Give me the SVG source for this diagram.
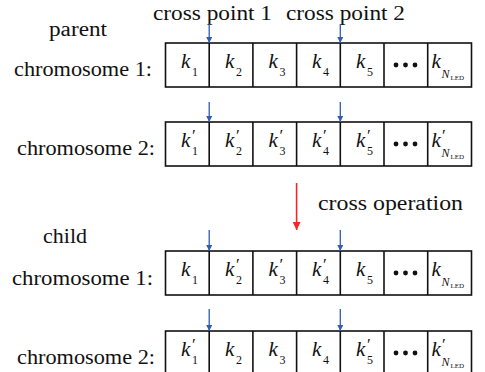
<svg xmlns="http://www.w3.org/2000/svg" width="485" height="372" viewBox="0 0 485 372">
  <defs>
    <style>
      .lbl { font-size: 20px; fill: #111; }
      .cell { fill: #fff; stroke: #111; stroke-width: 1.6; }
      .div { stroke: #111; stroke-width: 1.6; }
      .k { font-style: italic; font-size: 21px; fill: #111; }
      .sub { font-style: normal; font-size: 12px; }
      .pr { font-style: normal; font-size: 17px; }
      .nsub { font-style: italic; font-size: 12px; }
      .led { font-style: normal; font-size: 7px; }
      .cut { stroke: #2f5cb5; stroke-width: 1.3; fill: none; marker-end: url(#blueHead); }
      .op { stroke: #f02828; stroke-width: 1.6; fill: none; marker-end: url(#redHead); }
    </style>
    <marker id="blueHead" viewBox="0 0 8 8" refX="8" refY="4" markerWidth="6" markerHeight="6" markerUnits="userSpaceOnUse" orient="auto">
      <path d="M0,0 L8,4 L0,8 Z" fill="#2f5cb5"/>
    </marker>
    <marker id="redHead" viewBox="0 0 8 8" refX="8" refY="4" markerWidth="8" markerHeight="8" markerUnits="userSpaceOnUse" orient="auto">
      <path d="M0,0 L8,4 L0,8 Z" fill="#f02828"/>
    </marker>
    <!-- one chromosome: seven genes in a strip, 43.7px per cell -->
    <g id="strip">
      <rect class="cell" x="165.5" y="0" width="306" height="44"/>
      <line class="div" x1="209.2" y1="0" x2="209.2" y2="44"/>
      <line class="div" x1="252.9" y1="0" x2="252.9" y2="44"/>
      <line class="div" x1="296.6" y1="0" x2="296.6" y2="44"/>
      <line class="div" x1="340.3" y1="0" x2="340.3" y2="44"/>
      <line class="div" x1="384" y1="0" x2="384" y2="44"/>
      <line class="div" x1="427.7" y1="0" x2="427.7" y2="44"/>
      <circle cx="396" cy="22" r="2.4" fill="#111"/>
      <circle cx="405.5" cy="22" r="2.4" fill="#111"/>
      <circle cx="415" cy="22" r="2.4" fill="#111"/>
    </g>
  </defs>

  <g font-family="'Liberation Serif', 'DejaVu Serif', serif">
  <!-- headings -->
  <text class="lbl" x="153" y="20" textLength="119" lengthAdjust="spacingAndGlyphs">cross point 1</text>
  <text class="lbl" x="286" y="20" textLength="119" lengthAdjust="spacingAndGlyphs">cross point 2</text>
  <text class="lbl" x="49" y="36" textLength="58" lengthAdjust="spacingAndGlyphs">parent</text>
  <text class="lbl" x="318" y="210" textLength="145" lengthAdjust="spacingAndGlyphs">cross operation</text>
  <text class="lbl" x="43" y="243" textLength="44" lengthAdjust="spacingAndGlyphs">child</text>

  <!-- parent chromosome 1 -->
  <g id="parent1">
    <text class="lbl" x="14" y="76" textLength="138" lengthAdjust="spacingAndGlyphs">chromosome 1:</text>
    <use href="#strip" y="43"/>
    <text class="k" y="68"><tspan x="181">k</tspan><tspan class="sub" x="192" y="76">1</tspan></text>
    <text class="k" y="68"><tspan x="225">k</tspan><tspan class="sub" x="236" y="76">2</tspan></text>
    <text class="k" y="68"><tspan x="268.5">k</tspan><tspan class="sub" x="279.5" y="76">3</tspan></text>
    <text class="k" y="68"><tspan x="312">k</tspan><tspan class="sub" x="323" y="76">4</tspan></text>
    <text class="k" y="68"><tspan x="356">k</tspan><tspan class="sub" x="367" y="76">5</tspan></text>
    <text class="k" y="68"><tspan x="431.5">k</tspan><tspan class="nsub" x="441.5" y="78">N</tspan><tspan class="led" x="450.5" y="80">LED</tspan></text>
  </g>

  <!-- parent chromosome 2 -->
  <g id="parent2">
    <text class="lbl" x="17" y="155" textLength="138" lengthAdjust="spacingAndGlyphs">chromosome 2:</text>
    <use href="#strip" y="122"/>
    <text class="k" y="147"><tspan x="181">k</tspan><tspan class="pr" x="192" y="141">′</tspan><tspan class="sub" x="192" y="155">1</tspan></text>
    <text class="k" y="147"><tspan x="225">k</tspan><tspan class="pr" x="236" y="141">′</tspan><tspan class="sub" x="236" y="155">2</tspan></text>
    <text class="k" y="147"><tspan x="268.5">k</tspan><tspan class="pr" x="279.5" y="141">′</tspan><tspan class="sub" x="279.5" y="155">3</tspan></text>
    <text class="k" y="147"><tspan x="312">k</tspan><tspan class="pr" x="323" y="141">′</tspan><tspan class="sub" x="323" y="155">4</tspan></text>
    <text class="k" y="147"><tspan x="356">k</tspan><tspan class="pr" x="367" y="141">′</tspan><tspan class="sub" x="367" y="155">5</tspan></text>
    <text class="k" y="147"><tspan x="431.5">k</tspan><tspan class="pr" x="442" y="141">′</tspan><tspan class="nsub" x="441.5" y="157">N</tspan><tspan class="led" x="450.5" y="159">LED</tspan></text>
  </g>

  <!-- child chromosome 1 -->
  <g id="child1">
    <text class="lbl" x="12" y="285" textLength="141" lengthAdjust="spacingAndGlyphs">chromosome 1:</text>
    <use href="#strip" y="251"/>
    <text class="k" y="276"><tspan x="181">k</tspan><tspan class="sub" x="192" y="284">1</tspan></text>
    <text class="k" y="276"><tspan x="225">k</tspan><tspan class="pr" x="236" y="270">′</tspan><tspan class="sub" x="236" y="284">2</tspan></text>
    <text class="k" y="276"><tspan x="268.5">k</tspan><tspan class="pr" x="279.5" y="270">′</tspan><tspan class="sub" x="279.5" y="284">3</tspan></text>
    <text class="k" y="276"><tspan x="312">k</tspan><tspan class="pr" x="323" y="270">′</tspan><tspan class="sub" x="323" y="284">4</tspan></text>
    <text class="k" y="276"><tspan x="356">k</tspan><tspan class="sub" x="367" y="284">5</tspan></text>
    <text class="k" y="276"><tspan x="431.5">k</tspan><tspan class="nsub" x="441.5" y="286">N</tspan><tspan class="led" x="450.5" y="288">LED</tspan></text>
  </g>

  <!-- child chromosome 2 -->
  <g id="child2">
    <text class="lbl" x="17" y="364" textLength="138" lengthAdjust="spacingAndGlyphs">chromosome 2:</text>
    <use href="#strip" y="331"/>
    <text class="k" y="356"><tspan x="181">k</tspan><tspan class="pr" x="192" y="350">′</tspan><tspan class="sub" x="192" y="364">1</tspan></text>
    <text class="k" y="356"><tspan x="225">k</tspan><tspan class="sub" x="236" y="364">2</tspan></text>
    <text class="k" y="356"><tspan x="268.5">k</tspan><tspan class="sub" x="279.5" y="364">3</tspan></text>
    <text class="k" y="356"><tspan x="312">k</tspan><tspan class="sub" x="323" y="364">4</tspan></text>
    <text class="k" y="356"><tspan x="356">k</tspan><tspan class="pr" x="367" y="350">′</tspan><tspan class="sub" x="367" y="364">5</tspan></text>
    <text class="k" y="356"><tspan x="431.5">k</tspan><tspan class="pr" x="442" y="350">′</tspan><tspan class="nsub" x="441.5" y="366">N</tspan><tspan class="led" x="450.5" y="368">LED</tspan></text>
  </g>
  </g>

  <!-- crossover cut marks and the operation arrow -->
  <g id="connectors">
    <line class="cut" x1="209.2" y1="24" x2="209.2" y2="43"/>
    <line class="cut" x1="340.3" y1="24" x2="340.3" y2="43"/>
    <line class="cut" x1="209.2" y1="102" x2="209.2" y2="122"/>
    <line class="cut" x1="340.3" y1="102" x2="340.3" y2="122"/>
    <line class="cut" x1="209.2" y1="230" x2="209.2" y2="251"/>
    <line class="cut" x1="340.3" y1="230" x2="340.3" y2="251"/>
    <line class="cut" x1="209.2" y1="309" x2="209.2" y2="331"/>
    <line class="cut" x1="340.3" y1="309" x2="340.3" y2="331"/>
    <line class="op" x1="296.6" y1="183" x2="296.6" y2="230"/>
  </g>
</svg>
